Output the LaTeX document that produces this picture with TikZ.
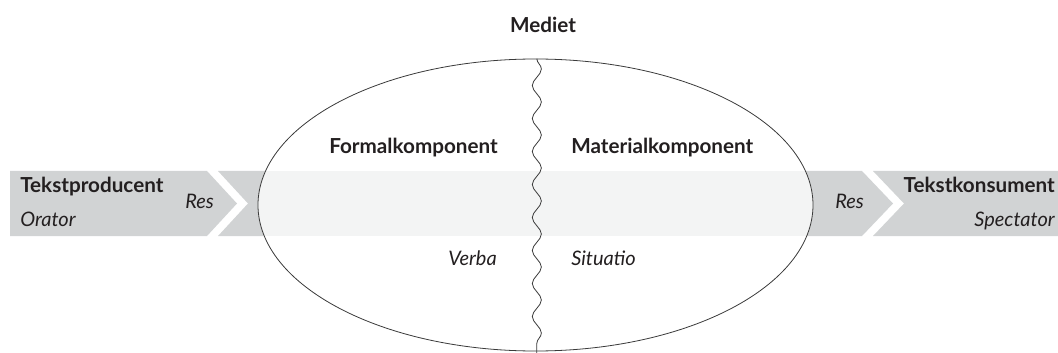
\documentclass[tikz,border=0pt]{standalone}
\usepackage{fontspec}
\setmainfont{Lato}
\usepackage{tikz}
\usetikzlibrary{shapes.geometric,decorations.pathmorphing}
\definecolor{arrowgrey}{HTML}{D1D3D4}
\definecolor{bandgrey}{HTML}{F3F4F4}
\definecolor{inkdark}{HTML}{231F20}
\definecolor{linegrey}{HTML}{3A3A3A}
\tikzset{
    grey-arrow/.style = {fill=arrowgrey, draw=none},
    medium-box/.style = {ellipse, fill=white, draw=none, inner sep=0pt, minimum width=416.25pt, minimum height=219pt},
    medium-line/.style = {draw=linegrey, line width=0.6pt},
    head-text/.style = {inner sep=0pt, text=inkdark, font=\fontsize{15.5}{18}\selectfont\bfseries},
    role-text/.style = {inner sep=0pt, text=inkdark, font=\fontsize{15}{18}\selectfont\itshape},
}

\begin{document}
\begin{tikzpicture}[x=0.75pt, y=-0.75pt]
\useasboundingbox (0,0) rectangle (1058,353);
% the band of arrows
\fill[grey-arrow] (10,171) -- (207,171) -- (237,203.5) -- (207,236) -- (10,236) -- cycle;
\fill[grey-arrow] (218,171) -- (862,171) -- (893,203.5) -- (862,236) -- (218,236) -- (248,203.5) -- cycle;
\fill[grey-arrow] (873,171) -- (1070,171) -- (1070,236) -- (873,236) -- (904,203.5) -- cycle;
% the medium
\node[medium-box] (medium) at (535.5,205) {};
\begin{scope}
    \clip (medium.center) ellipse [x radius=277.5, y radius=146];
    \fill[bandgrey] (250,171) rectangle (820,236);
\end{scope}
\draw[medium-line] (medium.center) ellipse [x radius=277.5, y radius=146];
\draw[medium-line, decorate, decoration={snake, amplitude=3.4pt, segment length=24.75pt}]
    ([xshift=1pt]medium.north) -- ([yshift=-3pt, xshift=1pt]medium.south);

\node[head-text] (mediet) at (543,25) {Mediet};
\node[head-text, anchor=base east] (formal) at (498,154) {Formalkomponent};
\node[head-text, anchor=base west] (material) at (571,154) {Materialkomponent};
\node[role-text, anchor=base east] (verba) at (497,265) {Verba};
\node[role-text, anchor=base west] (situatio) at (571,265) {Situatio};

\node[head-text, anchor=base west] (producent) at (20,193) {Tekstproducent};
\node[role-text, anchor=base west] (orator) at (20,226) {Orator};
\node[role-text, anchor=base west] (res-in) at (185,208.5) {Res};
\node[role-text, anchor=base west] (res-out) at (835,208.5) {Res};
\node[head-text, anchor=base east] (konsument) at (1055,193) {Tekstkonsument};
\node[role-text, anchor=base east] (spectator) at (1055,226) {Spectator};
\end{tikzpicture}
\end{document}
